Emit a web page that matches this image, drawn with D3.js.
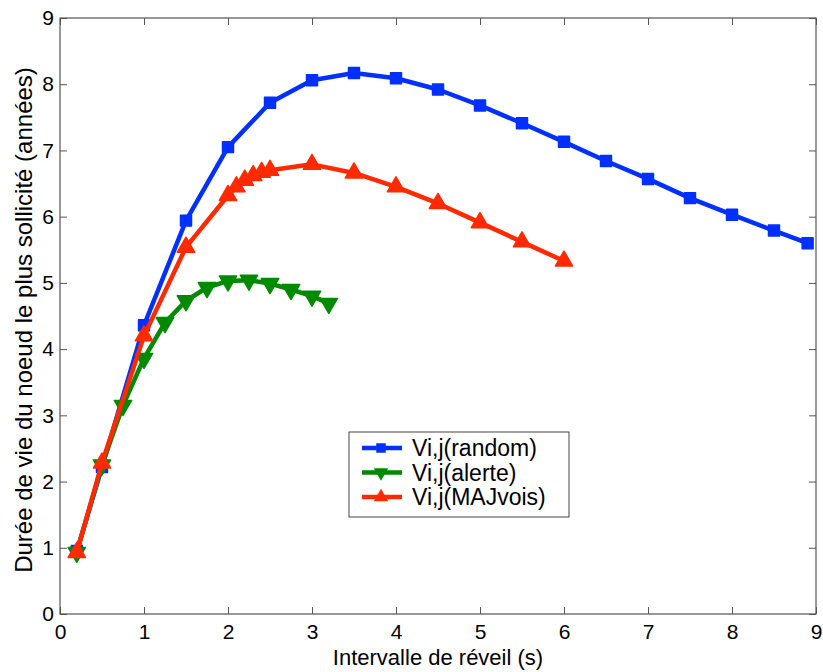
<!DOCTYPE html>
<html>
<head>
<meta charset="utf-8">
<script src="https://cdn.jsdelivr.net/npm/d3@7"></script>
<style>
  body { margin: 0; background: #fff; }
  svg text { font-family: "Liberation Sans", Arial, sans-serif; fill: #000; }
</style>
</head>
<body>
<div id="graph"></div>
<script>
'use strict';

// data
const randomX = [0.2, 0.5, 1, 1.5, 2, 2.5, 3, 3.5, 4, 4.5, 5, 5.5, 6, 6.5, 7, 7.5, 8, 8.5, 8.9];
const randomY = [0.95, 2.22, 4.36, 5.94, 7.05, 7.72, 8.06, 8.17, 8.09, 7.92, 7.68, 7.41, 7.13, 6.84, 6.57, 6.28, 6.03, 5.79, 5.60];

const alerteX = [0.2, 0.5, 0.75, 1, 1.25, 1.5, 1.75, 2, 2.25, 2.5, 2.75, 3, 3.2];
const alerteY = [0.93, 2.25, 3.15, 3.86, 4.40, 4.73, 4.93, 5.03, 5.04, 4.99, 4.90, 4.80, 4.69];

const majX = [0.2, 0.5, 1, 1.5, 2, 2.1, 2.2, 2.3, 2.4, 2.5, 3, 3.5, 4, 4.5, 5, 5.5, 6];
const majY = [0.93, 2.28, 4.20, 5.54, 6.32, 6.45, 6.55, 6.62, 6.67, 6.70, 6.79, 6.66, 6.45, 6.20, 5.91, 5.62, 5.33];

const seriesNames = ['Vi,j(random)', 'Vi,j(alerte)', 'Vi,j(MAJvois)'];
const xTicks = [0, 1, 2, 3, 4, 5, 6, 7, 8, 9];
const yTicks = [0, 1, 2, 3, 4, 5, 6, 7, 8, 9];

const series = [
  { name: seriesNames[0], xs: randomX, ys: randomY, color: '#0030ff', marker: 'square' },
  { name: seriesNames[1], xs: alerteX, ys: alerteY, color: '#008a00', marker: 'down' },
  { name: seriesNames[2], xs: majX, ys: majY, color: '#ff2a00', marker: 'up' },
];

const W = 823, H = 672;
const plotLeft = 60, plotRight = 816, plotTop = 18, plotBottom = 614;

const svg = d3.select('#graph').append('svg')
  .attr('width', W)
  .attr('height', H);

const xScale = d3.scaleLinear().domain([0, 9]).range([plotLeft, plotRight]);
const yScale = d3.scaleLinear().domain([0, 9]).range([plotBottom, plotTop]);

// box
svg.append('rect')
  .attr('x', plotLeft).attr('y', plotTop)
  .attr('width', plotRight - plotLeft).attr('height', plotBottom - plotTop)
  .attr('fill', 'none').attr('stroke', '#333').attr('stroke-width', 1);

// axes with inward ticks
function styleAxis(g) {
  g.select('.domain').remove();
  g.selectAll('.tick line').attr('stroke', '#555');
  g.selectAll('.tick text').style('font-size', '21px');
}

svg.append('g')
  .attr('transform', `translate(0, ${plotBottom})`)
  .call(d3.axisBottom(xScale).tickValues(xTicks).tickSize(-7).tickPadding(10).tickFormat(d3.format('d')))
  .call(styleAxis);

svg.append('g')
  .attr('transform', `translate(0, ${plotTop})`)
  .call(d3.axisTop(xScale).tickValues(xTicks).tickSize(-7).tickFormat(''))
  .call(styleAxis);

svg.append('g')
  .attr('transform', `translate(${plotLeft}, 0)`)
  .call(d3.axisLeft(yScale).tickValues(yTicks).tickSize(-7).tickPadding(6).tickFormat(d3.format('d')))
  .call(styleAxis);

svg.append('g')
  .attr('transform', `translate(${plotRight}, 0)`)
  .call(d3.axisRight(yScale).tickValues(yTicks).tickSize(-7).tickFormat(''))
  .call(styleAxis);

const symbolFor = {
  square: d3.symbol().type(d3.symbolSquare).size(120),
  down: d3.symbol().type(d3.symbolTriangle).size(130),
  up: d3.symbol().type(d3.symbolTriangle).size(130),
};

const line = d3.line()
  .x(d => xScale(d[0]))
  .y(d => yScale(d[1]));

series.forEach(s => {
  const pts = s.xs.map((x, i) => [x, s.ys[i]]);
  const g = svg.append('g');
  g.append('path')
    .datum(pts)
    .attr('d', line)
    .attr('fill', 'none')
    .attr('stroke', s.color)
    .attr('stroke-width', 4.5)
    .attr('stroke-linejoin', 'round');
  g.selectAll('.mark')
    .data(pts)
    .enter()
    .append('path')
    .attr('d', symbolFor[s.marker])
    .attr('transform', d => `translate(${xScale(d[0])}, ${yScale(d[1])})` + (s.marker == 'down' ? ' rotate(180)' : ''))
    .attr('fill', s.color)
    .attr('stroke', s.color)
    .attr('stroke-width', 1.5)
    .attr('stroke-linejoin', 'round');
});

// legend
const legend = svg.append('g').attr('transform', 'translate(349, 432)');
legend.append('rect')
  .attr('width', 220).attr('height', 85)
  .attr('fill', '#fff').attr('stroke', '#444').attr('stroke-width', 1);

series.forEach((s, i) => {
  const y = 16 + i * 24.5;
  legend.append('line')
    .attr('x1', 13).attr('x2', 53)
    .attr('y1', y).attr('y2', y)
    .attr('stroke', s.color).attr('stroke-width', 4.5);
  legend.append('path')
    .attr('d', d3.symbol().type(s.marker == 'square' ? d3.symbolSquare : d3.symbolTriangle).size(90))
    .attr('transform', `translate(32, ${y})` + (s.marker == 'down' ? ' rotate(180)' : ''))
    .attr('fill', s.color);
  legend.append('text')
    .attr('x', 63).attr('y', y + 8)
    .style('font-size', '23px')
    .text(s.name);
});

// axis labels
svg.append('text')
  .attr('x', (plotLeft + plotRight) / 2)
  .attr('y', 665)
  .attr('text-anchor', 'middle')
  .style('font-size', '22px')
  .text('Intervalle de réveil (s)');

svg.append('text')
  .attr('transform', 'translate(32, 320) rotate(-90)')
  .attr('text-anchor', 'middle')
  .style('font-size', '24px')
  .text('Durée de vie du noeud le plus sollicité (années)');
</script>
</body>
</html>
